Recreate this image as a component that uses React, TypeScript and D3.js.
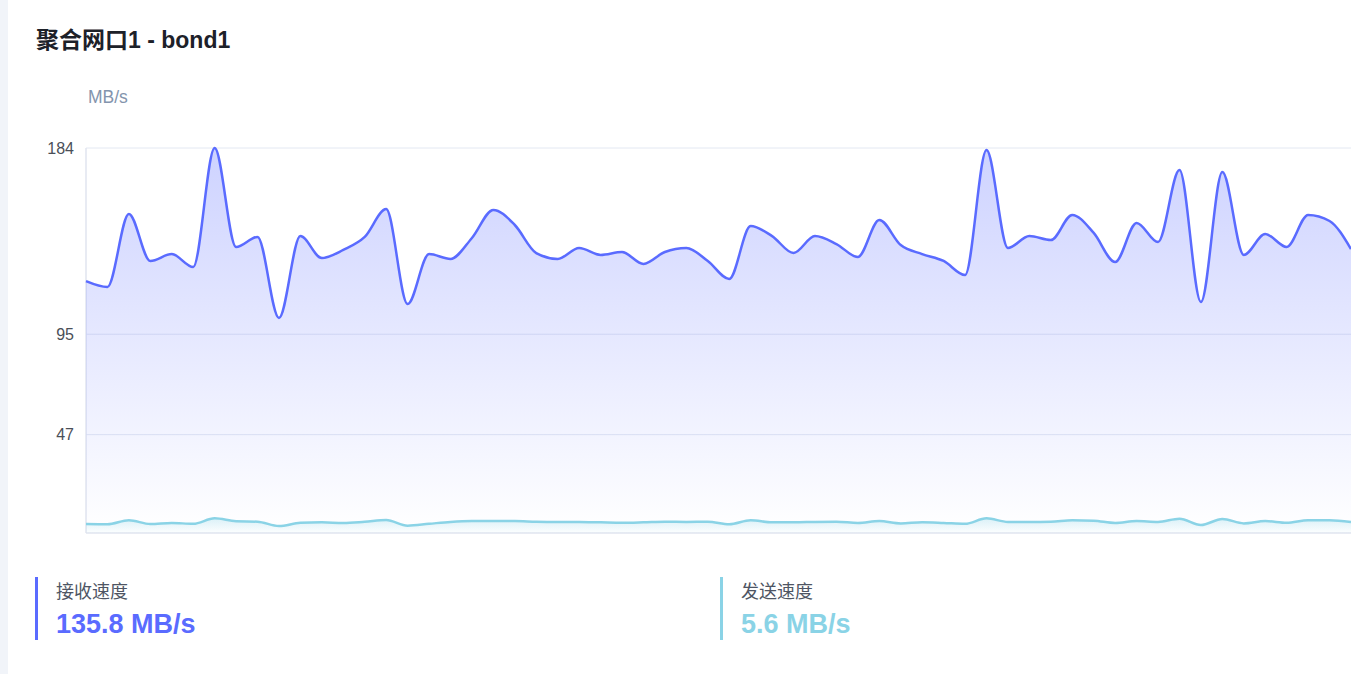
import React, { useEffect, useRef } from "react";
import * as d3 from "d3";

const chartTitle = "聚合网口1 - bond1";
const unitLabel = "MB/s";
const yTickValues = [184, 95, 47];
const yDomainMax = 184;

const receiveValues = [
  120.4, 117.6, 152.5, 130.0, 133.3, 127.1, 184.0, 136.7, 141.5, 102.8,
  141.9, 131.4, 135.3, 141.5, 154.8, 109.4, 133.3, 131.0, 141.0, 154.4,
  147.2, 133.8, 131.0, 136.2, 132.9, 134.3, 128.6, 134.3, 136.2, 130.0,
  121.4, 146.7, 141.9, 133.8, 141.9, 138.1, 131.9, 149.6, 137.6, 133.3,
  130.0, 123.3, 183.0, 136.2, 141.9, 140.0, 152.0, 143.4, 129.5, 148.2,
  139.1, 173.5, 110.4, 172.5, 132.9, 142.9, 136.7, 152.0, 149.1, 135.7,
];

const sendValues = [
  4.3, 4.2, 6.1, 4.3, 4.8, 4.4, 7.0, 5.6, 5.4, 3.3,
  4.9, 5.1, 4.8, 5.4, 6.2, 3.5, 4.4, 5.3, 5.7, 5.7,
  5.7, 5.4, 5.3, 5.3, 5.1, 4.9, 5.1, 5.4, 5.3, 5.4,
  4.2, 6.1, 5.1, 5.1, 5.3, 5.4, 4.8, 5.7, 4.6, 5.1,
  4.8, 4.4, 7.0, 5.3, 5.3, 5.4, 6.1, 5.9, 4.8, 5.7,
  5.3, 6.8, 3.8, 6.7, 4.6, 5.7, 4.9, 6.1, 6.1, 5.3,
];

const legendLabels = ["接收速度", "发送速度"];
const legendValues = ["135.8 MB/s", "5.6 MB/s"];

const W = 1351;
const H = 674;
const plot = { left: 86, right: 1351, top: 148, bottom: 533 };
const RECV = "#5a6bff";
const SEND = "#8ad3e6";
const FONT = "'Liberation Sans', 'Noto Sans CJK SC', Arial, sans-serif";

export default function App() {
  const axisRef = useRef<SVGGElement>(null);

  const x = d3
    .scaleLinear()
    .domain([0, receiveValues.length - 1])
    .range([plot.left, plot.right]);
  const y = d3.scaleLinear().domain([0, yDomainMax]).range([plot.bottom, plot.top]);

  const curve = d3.curveMonotoneX;
  const lineGen = d3
    .line<number>()
    .x((_, i) => x(i))
    .y((d) => y(d))
    .curve(curve);
  const areaGen = d3
    .area<number>()
    .x((_, i) => x(i))
    .y0(y(0))
    .y1((d) => y(d))
    .curve(curve);

  useEffect(() => {
    if (!axisRef.current) return;
    const g = d3.select(axisRef.current);
    g.selectAll("*").remove();
    g.call(
      d3
        .axisLeft(y)
        .tickValues(yTickValues)
        .tickSize(0)
        .tickPadding(12)
        .tickFormat((d) => String(d))
    );
    g.select(".domain").remove();
    g.selectAll("text")
      .attr("fill", "#4a4f58")
      .style("font-size", "16px")
      .style("font-family", FONT);
  }, []);

  const legendX = [35, 720];
  const legendColors = [RECV, SEND];

  return (
    <svg
      width={W}
      height={H}
      style={{ position: "absolute", left: 0, top: 0, display: "block" }}
      fontFamily={FONT}
    >
      <defs>
        <linearGradient id="recvGrad" x1="0" y1="0" x2="0" y2="1">
          <stop offset="0%" stopColor={RECV} stopOpacity={0.3} />
          <stop offset="100%" stopColor={RECV} stopOpacity={0} />
        </linearGradient>
        <linearGradient id="sendGrad" x1="0" y1="0" x2="0" y2="1">
          <stop offset="0%" stopColor={SEND} stopOpacity={0.3} />
          <stop offset="100%" stopColor={SEND} stopOpacity={0.02} />
        </linearGradient>
      </defs>
      <rect x={0} y={0} width={W} height={H} fill="#f1f4f9" />
      <rect x={8} y={0} width={W - 8} height={H} fill="#ffffff" />

      <text x={36} y={48} fontSize={23} fontWeight={700} fill="#1d2129">
        {chartTitle}
      </text>
      <text x={88} y={103} fontSize={17.5} fill="#8394ad">
        {unitLabel}
      </text>

      {yTickValues.map((t) => (
        <line
          key={t}
          x1={plot.left}
          x2={plot.right}
          y1={y(t)}
          y2={y(t)}
          stroke="#e3e8f2"
          strokeWidth={1}
        />
      ))}
      <line x1={plot.left} x2={plot.left} y1={plot.top} y2={plot.bottom} stroke="#e0e5ef" strokeWidth={1.5} />
      <line x1={plot.left} x2={plot.right} y1={plot.bottom} y2={plot.bottom} stroke="#e0e5ef" strokeWidth={1.5} />

      <g ref={axisRef} transform={`translate(${plot.left},0)`} />

      <path d={areaGen(receiveValues) || ""} fill="url(#recvGrad)" />
      <path d={areaGen(sendValues) || ""} fill="url(#sendGrad)" />
      <path d={lineGen(sendValues) || ""} fill="none" stroke={SEND} strokeWidth={2.5} />
      <path d={lineGen(receiveValues) || ""} fill="none" stroke={RECV} strokeWidth={2.5} />

      {legendLabels.map((lab, i) => (
        <g key={lab}>
          <rect x={legendX[i]} y={577} width={3} height={63} fill={legendColors[i]} />
          <text x={legendX[i] + 21} y={598} fontSize={18} fill="#4e5563">
            {lab}
          </text>
          <text x={legendX[i] + 21} y={633} fontSize={27} fontWeight={700} fill={legendColors[i]}>
            {legendValues[i]}
          </text>
        </g>
      ))}
    </svg>
  );
}
